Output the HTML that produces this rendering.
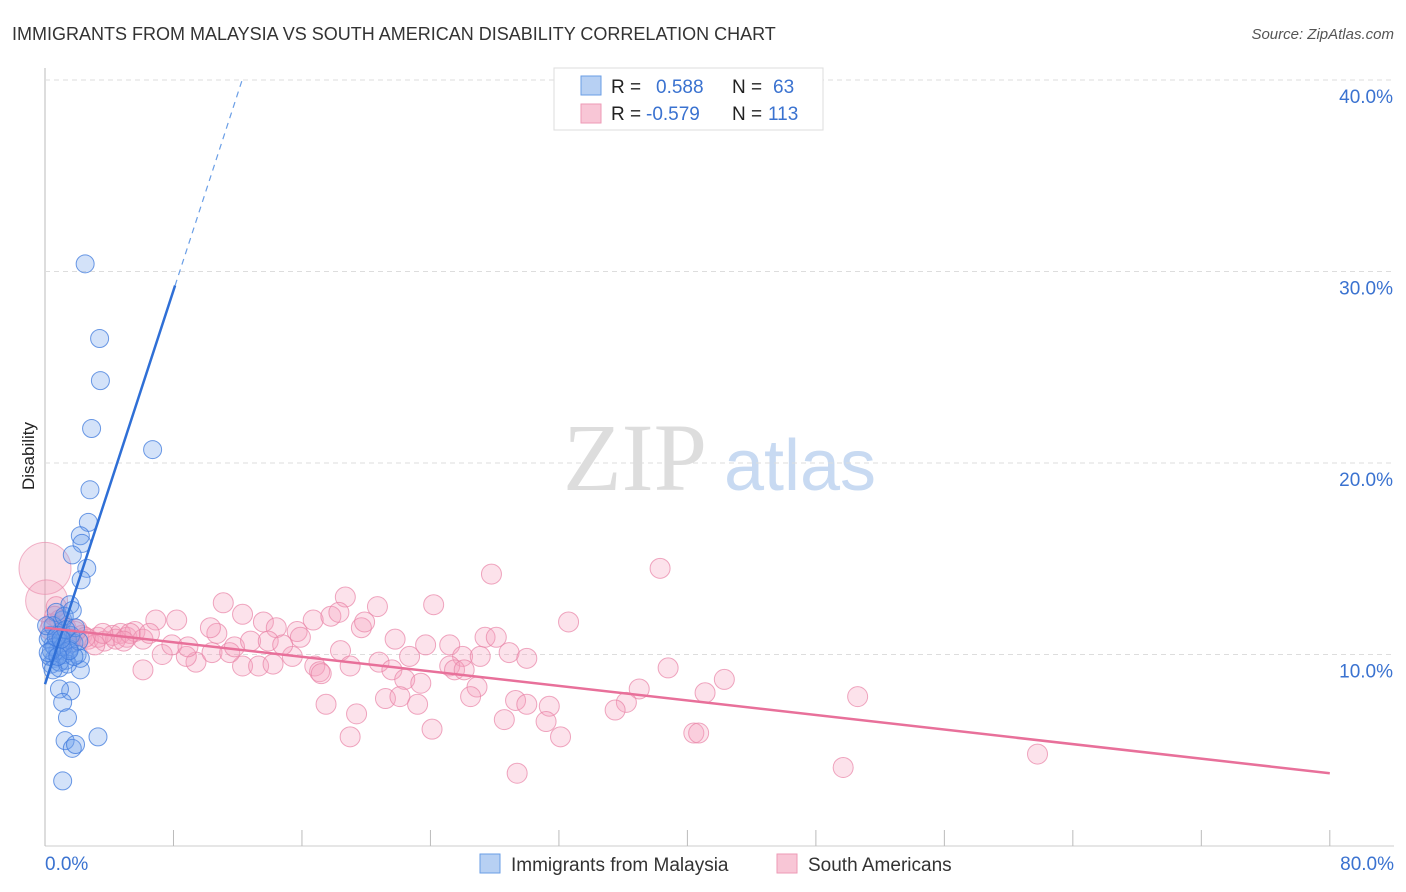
<!DOCTYPE html>
<html><head><meta charset="utf-8"><style>
body{margin:0;background:#fff;font-family:"Liberation Sans",sans-serif;}
#wrap{position:relative;width:1406px;height:892px;overflow:hidden;}
</style></head><body><div id="wrap">
<svg id="svg" width="1406" height="892" xmlns="http://www.w3.org/2000/svg">
<text x="12" y="40" font-size="18" fill="#333">IMMIGRANTS FROM MALAYSIA VS SOUTH AMERICAN DISABILITY CORRELATION CHART</text>
<text x="1394" y="39" font-size="15" fill="#555" text-anchor="end" font-style="italic">Source: ZipAtlas.com</text>
<text transform="translate(34,456) rotate(-90)" font-size="17" fill="#222" text-anchor="middle">Disability</text>
<g><text x="635" y="490" font-size="96" fill="#ddd" text-anchor="middle" font-family="Liberation Serif,serif">ZIP</text><text x="800" y="490" font-size="72" fill="#c8daf2" text-anchor="middle">atlas</text></g>
<g id="grid"></g><g id="pts"></g><g id="lines"></g>
<g>
<rect x="554" y="68" width="269" height="62" fill="#fff" stroke="#ddd"/>
<rect x="581" y="76" width="20" height="19" fill="#b7d0f3" stroke="#6a9ee6"/>
<rect x="581" y="104" width="20" height="19" fill="#f8c6d6" stroke="#ee9ab6"/>
<text x="611" y="93" font-size="19" fill="#222">R =</text><text x="656" y="93" font-size="19" fill="#3a72d0">0.588</text>
<text x="732" y="93" font-size="19" fill="#222">N =</text><text x="773" y="93" font-size="19" fill="#3a72d0">63</text>
<text x="611" y="120" font-size="19" fill="#222">R =</text><text x="646" y="120" font-size="19" fill="#3a72d0">-0.579</text>
<text x="732" y="120" font-size="19" fill="#222">N =</text><text x="768" y="120" font-size="19" fill="#3a72d0">113</text>
</g>
<g>
<rect x="480" y="854" width="20" height="19" fill="#b7d0f3" stroke="#6a9ee6"/>
<text x="511" y="871" font-size="19" fill="#333">Immigrants from Malaysia</text>
<rect x="777" y="854" width="20" height="19" fill="#f8c6d6" stroke="#ee9ab6"/>
<text x="808" y="871" font-size="19" fill="#333">South Americans</text>
</g>
</svg>
<script>
const xTicks=[0,8,16,24,32,40,48,56,64,72,80];
const yTicks=[10,20,30,40];
const blueX=[2.5,3.4,3.45,2.9,6.7,2.8,2.7,2.2,2.3,1.7,2.6,2.25,1.55,2.2,1.6,0.9,1.1,1.4,3.3,1.25,1.7,1.9,1.1,0.3,0.5,0.6,0.8,1,1.2,0.4,0.9,1.4,1.1,0.7,1.5,0.2,1.3,1.8,0.5,1,1.6,0.3,0.8,2,1.2,0.6,1.9,0.9,1.4,0.4,1.7,1.1,2.2,0.1,0.2,1.8,0.7,1.3,2.1,0.5,1.5,0.8,1.0];
const blueY=[30.4,26.5,24.3,21.8,20.7,18.6,16.9,16.2,15.8,15.2,14.5,13.9,12.6,9.2,8.1,8.2,7.5,6.7,5.7,5.5,5.1,5.3,3.4,11,10.5,9.8,10.2,11.2,10,9.5,9.3,10.8,11.8,12.2,10.3,10.8,9.7,10.6,11.5,10.6,11,9.9,11,10,12,10.4,11.4,9.6,9.5,10.2,12.3,10.4,9.8,11.5,10.1,9.9,10.9,11.3,10.7,9.2,10.2,9.9,10.8];
const pinkX=[38.3,27.8,32.6,24.2,20.7,18.7,11.1,12.3,6.9,8.2,13.6,14.4,16.7,17.8,18.3,19.7,19.9,15.7,15.9,27.4,28.1,21.8,23.7,25.2,26,27.1,28.9,30,18.4,22.7,20.8,19,16.8,15.4,17.1,17.2,21.6,25.2,25.5,26.1,38.8,42.3,22.4,23.4,26.9,37,12.3,13.3,14.2,9.4,8.8,7.3,6.1,10.4,11.5,11.8,12.8,13.9,14.8,7.9,8.9,10.7,10.3,41.1,50.6,21.2,22.1,23.2,26.5,29.3,30,31.4,36.2,35.5,17.5,19.4,28.6,31.2,24.1,19,32.1,40.4,40.7,61.8,49.7,29.4,0.7,0.9,1.3,1.9,2.3,2.7,3.3,3.7,4.2,4.7,5.1,5.6,6.1,6.5,1.6,3.1,4.4,5.3,0.4,1.0,1.5,2.0,0.6,2.5,3.6,4.9,0.3];
const pinkY=[14.5,14.2,11.7,12.6,12.5,13,12.7,12.1,11.8,11.8,11.7,11.4,11.8,12,12.2,11.4,11.7,11.2,10.9,10.9,10.9,10.8,10.5,10.5,9.9,9.9,10.1,9.8,10.2,9.9,9.6,9.4,9.4,9.9,9.1,9,9.2,9.4,9.2,9.2,9.3,8.7,8.7,8.5,8.3,8.2,9.4,9.4,9.5,9.6,9.9,10,9.2,10.1,10.1,10.4,10.7,10.7,10.5,10.5,10.4,11.1,11.4,8,7.8,7.7,7.8,7.4,7.8,7.6,7.4,7.3,7.5,7.1,7.4,6.9,6.6,6.5,6.1,5.7,5.7,5.9,5.9,4.8,4.1,3.8,12.5,11.8,11.4,11.2,11,10.8,10.9,10.7,11,11.1,10.9,11.2,10.8,11.1,10.8,10.5,10.8,11.1,11.6,11.0,10.6,11.3,12.0,10.9,11.1,10.7,11.3];
const bigPinkX=[0,0.1];const bigPinkY=[14.5,12.8];const bigPinkR=[26,21];
const blueFit=[8.45,2.57];const pinkFit=[11.4,-0.095];
const X=v=>45+v*16.06, Y=v=>846-v*19.15;
const NS='http://www.w3.org/2000/svg';
function mk(p,tag,a){const e=document.createElementNS(NS,tag);for(const k in a)e.setAttribute(k,a[k]);p.appendChild(e);return e;}
const g=document.getElementById('grid'),pts=document.getElementById('pts'),ln=document.getElementById('lines');
let ax=mk(g,'line',{x1:45,y1:68,x2:45,y2:846,stroke:'#bbb'});


let bx=mk(g,'line',{x1:45,y1:846,x2:1394,y2:846,stroke:'#ccc'});


yTicks.forEach(t=>{const l=mk(g,'line',{x1:45,y1:Y(t),x2:1394,y2:Y(t),stroke:'#ddd','stroke-dasharray':'5,4'});


const tx=mk(g,'text',{x:1393,y:Y(t)+23,'font-size':19,fill:'#3a72d0','text-anchor':'end'});tx.textContent=t.toFixed(1)+'%';

});
xTicks.forEach(t=>{const l=mk(g,'line',{x1:X(t),y1:830,x2:X(t),y2:846,stroke:'#bbb'});

});
[[0,'start',45],[80,'end',1394]].forEach(([t,a,x])=>{const tx=mk(g,'text',{x:x,y:870,'font-size':19,fill:'#3a72d0','text-anchor':a});tx.textContent=t.toFixed(1)+'%';

});
bigPinkX.forEach((v,i)=>{const c=mk(pts,'circle',{cx:X(v),cy:Y(bigPinkY[i]),r:bigPinkR[i],fill:'rgba(240,150,180,0.28)',stroke:'rgba(232,130,165,0.6)'});

});
pinkX.forEach((v,i)=>{const c=mk(pts,'circle',{cx:X(v),cy:Y(pinkY[i]),r:10,fill:'rgba(244,160,188,0.3)',stroke:'rgba(232,130,165,0.7)'});

});
blueX.forEach((v,i)=>{const c=mk(pts,'circle',{cx:X(v),cy:Y(blueY[i]),r:9,fill:'rgba(110,160,235,0.3)',stroke:'rgba(60,120,220,0.75)'});

});
const bl=mk(ln,'line',{x1:X(0),y1:Y(blueFit[0]),x2:X(8.1),y2:Y(blueFit[0]+blueFit[1]*8.1),stroke:'#2f6fd6','stroke-width':2.5});


const bd=mk(ln,'line',{x1:X(8.1),y1:Y(blueFit[0]+blueFit[1]*8.1),x2:X(12.3),y2:Y(blueFit[0]+blueFit[1]*12.3),stroke:'#6a9ee6','stroke-width':1.2,'stroke-dasharray':'6,5'});


const pl=mk(ln,'line',{x1:X(0),y1:Y(pinkFit[0]),x2:X(80),y2:Y(pinkFit[0]+pinkFit[1]*80),stroke:'#e8709a','stroke-width':2.5});


</script></div></body></html>
